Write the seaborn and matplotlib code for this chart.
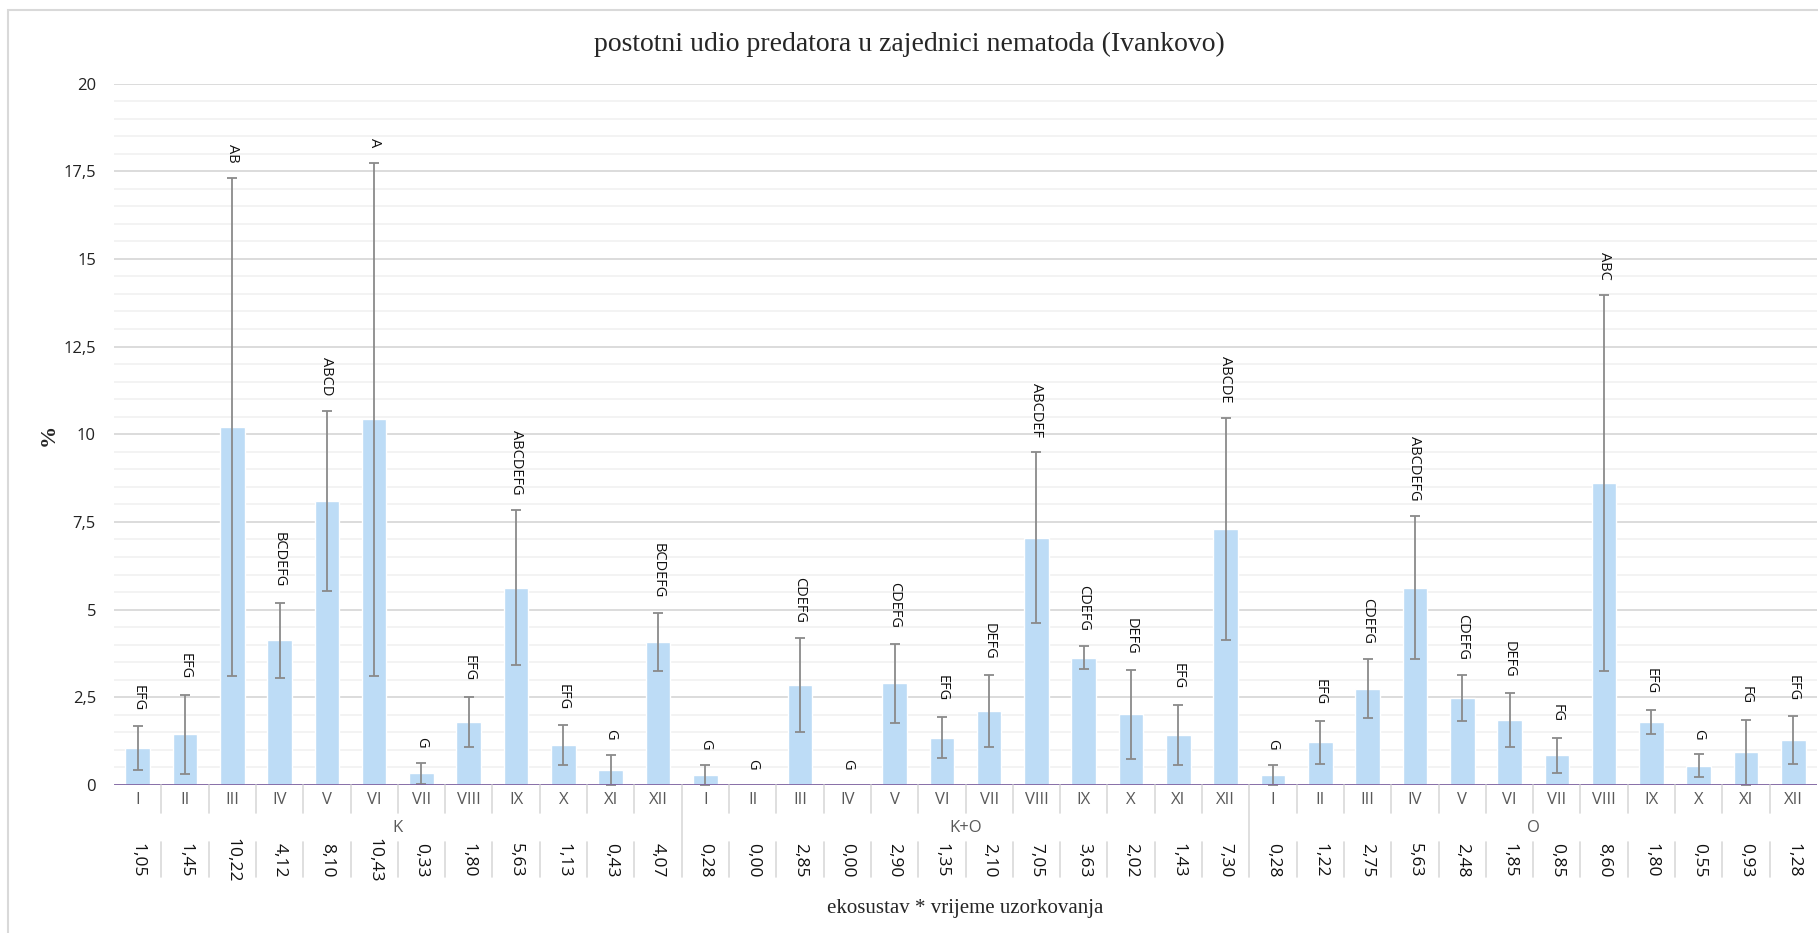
import numpy as np
import pandas as pd
import matplotlib
matplotlib.use("Agg")
import matplotlib.pyplot as plt
import seaborn as sns
from matplotlib.lines import Line2D
from matplotlib.patches import Rectangle
from matplotlib.transforms import blended_transform_factory

# ekosustavi i mjeseci uzorkovanja
groups = ["K", "K+O", "O"]
months = ["I", "II", "III", "IV", "V", "VI", "VII", "VIII", "IX", "X", "XI", "XII"]

# postotni udio predatora (srednje vrijednosti)
k_vals = [1.05, 1.45, 10.22, 4.12, 8.10, 10.43, 0.33, 1.80, 5.63, 1.13, 0.43, 4.07]
ko_vals = [0.28, 0.00, 2.85, 0.00, 2.90, 1.35, 2.10, 7.05, 3.63, 2.02, 1.43, 7.30]
o_vals = [0.28, 1.22, 2.75, 5.63, 2.48, 1.85, 0.85, 8.60, 1.80, 0.55, 0.93, 1.28]

# standardne devijacije (procijenjene s grafa)
k_err = [0.62, 1.13, 7.10, 1.07, 2.57, 7.31, 0.31, 0.72, 2.20, 0.57, 0.42, 0.82]
ko_err = [0.28, 0.00, 1.33, 0.00, 1.13, 0.59, 1.03, 2.44, 0.32, 1.27, 0.86, 3.17]
o_err = [0.28, 0.61, 0.83, 2.04, 0.65, 0.78, 0.50, 5.36, 0.35, 0.32, 0.93, 0.68]

# oznake signifikantnosti
k_letters = ["EFG", "EFG", "AB", "BCDEFG", "ABCD", "A", "G", "EFG", "ABCDEFG", "EFG", "G", "BCDEFG"]
ko_letters = ["G", "G", "CDEFG", "G", "CDEFG", "EFG", "DEFG", "ABCDEF", "CDEFG", "DEFG", "EFG", "ABCDE"]
o_letters = ["G", "EFG", "CDEFG", "ABCDEFG", "CDEFG", "DEFG", "FG", "ABC", "EFG", "G", "FG", "EFG"]

y_ticks = [0, 2.5, 5, 7.5, 10, 12.5, 15, 17.5, 20]

# tablica za seaborn
df = pd.DataFrame({
    "ekosustav": np.repeat(groups, len(months)),
    "mjesec": months * len(groups),
    "udio": k_vals + ko_vals + o_vals,
    "sd": k_err + ko_err + o_err,
    "slova": k_letters + ko_letters + o_letters,
})
df["kat"] = df["ekosustav"] + " " + df["mjesec"]

sns.set_style("white")
plt.rcParams["font.family"] = ["Open Sans", "DejaVu Sans"]

W, H = 1818, 933
fig = plt.figure(figsize=(W / 100, H / 100), dpi=100)
ax = fig.add_axes([114 / W, 1 - 785 / H, (1817 - 114) / W, (785 - 83.5) / H])

sns.barplot(data=df, x="kat", y="udio", color="#BDDCF6", saturation=1,
            width=0.52, errorbar=None, ax=ax, zorder=2)

# error bars (symmetric SD, skipped where SD is zero)
x = np.arange(len(df))
has_err = df["sd"].values > 0
lower = np.minimum(df["sd"].values, df["udio"].values)
ax.errorbar(x[has_err], df["udio"].values[has_err],
            yerr=[lower[has_err], df["sd"].values[has_err]],
            fmt="none", ecolor="#8A8A8A", elinewidth=1.3, capsize=3.3,
            capthick=1.3, zorder=3)

# letter labels above the error bars
for xi, (v, e, s) in enumerate(zip(df["udio"], df["sd"], df["slova"])):
    ax.annotate(s, (xi, v + e), xytext=(0, 11), textcoords="offset points",
                rotation=270, ha="center", va="bottom", fontsize=10.5,
                color="#111111", zorder=4)

ax.set_xlim(-0.5, len(df) - 0.5)
ax.set_ylim(0, 20)
ax.set_yticks(y_ticks)
ax.set_yticklabels([f"{t:g}".replace(".", ",") for t in y_ticks])
ax.set_yticks(np.arange(0, 20.01, 0.5), minor=True)
ax.grid(axis="y", which="major", color="#D9D9D9", lw=1.3, zorder=0)
ax.grid(axis="y", which="minor", color="#F0F0F0", lw=1.1, zorder=0)
ax.set_axisbelow(True)
ax.tick_params(axis="y", which="both", length=0, pad=13, labelsize=12,
               labelcolor="#222222")
ax.set_xticks([])
ax.set_xlabel("")
ax.set_ylabel("")
for sp in ax.spines.values():
    sp.set_visible(False)
ax.axhline(0, color="#8064A2", lw=2, zorder=5)

# table under the axis
trans = blended_transform_factory(ax.transData, fig.transFigure)


def fy(py):
    return 1 - py / H


line_c = "#D9D9D9"
for i in range(1, len(df)):
    xs = [i - 0.5, i - 0.5]
    if i % len(months) == 0:
        fig.add_artist(Line2D(xs, [fy(785), fy(877)], transform=trans, color=line_c, lw=1.2))
    else:
        fig.add_artist(Line2D(xs, [fy(785), fy(813)], transform=trans, color=line_c, lw=1.2))
        fig.add_artist(Line2D(xs, [fy(842), fy(877)], transform=trans, color=line_c, lw=1.2))

for xi, (m, v) in enumerate(zip(df["mjesec"], df["udio"])):
    fig.text(xi, fy(800), m, transform=trans, ha="center", va="center",
             fontsize=12, color="#595959")
    fig.text(xi, fy(860), f"{v:.2f}".replace(".", ","), transform=trans,
             ha="center", va="center", rotation=270, fontsize=12.5, color="#111111")

for gi, g in enumerate(groups):
    fig.text(gi * len(months) + (len(months) - 1) / 2, fy(828), g, transform=trans,
             ha="center", va="center", fontsize=12, color="#595959")

fig.text((len(df) - 1) / 2, fy(908), "ekosustav * vrijeme uzorkovanja", transform=trans,
         ha="center", va="center", fontsize=15, family="Liberation Serif")
fig.text(0.5, fy(44), "postotni udio predatora u zajednici nematoda (Ivankovo)",
         ha="center", va="center", fontsize=20, family="Liberation Serif")
fig.text(49 / W, fy(435), "%", rotation=90, ha="center", va="center",
         fontsize=16, fontweight="bold", family="Liberation Serif")

# chart area border
fig.add_artist(Rectangle((8 / W, -0.05), 1.2, fy(10) + 0.05, transform=fig.transFigure,
                         fill=False, ec="#D9D9D9", lw=1.5))

fig.savefig("out.png", dpi=100)
